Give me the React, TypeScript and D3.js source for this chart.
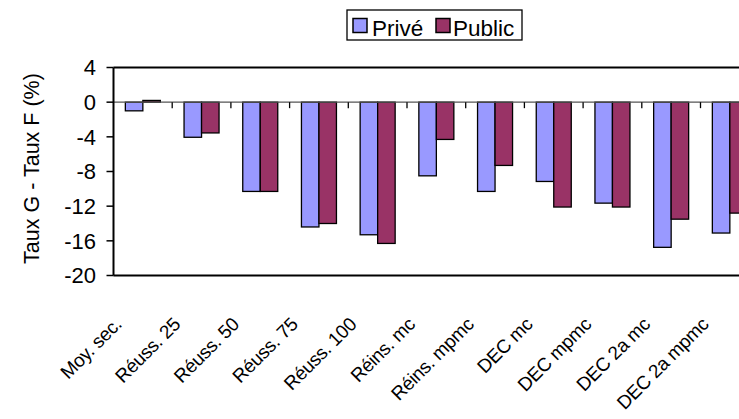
import React from "react";
import * as d3 from "d3";

const categories = ["Moy. sec.", "Réuss. 25", "Réuss. 50", "Réuss. 75", "Réuss. 100", "Réins. mc", "Réins. mpmc", "DEC mc", "DEC mpmc", "DEC 2a mc", "DEC 2a mpmc"];
const seriesNames = ["Privé", "Public"];
const prive = [-1.0, -4.05, -10.3, -14.4, -15.3, -8.5, -10.3, -9.15, -11.65, -16.75, -15.1];
const publicVals = [0.2, -3.55, -10.3, -14.0, -16.3, -4.3, -7.3, -12.1, -12.1, -13.5, -12.8];
const yTicks = [4, 0, -4, -8, -12, -16, -20];
const colors = ["#9999FF", "#993366"];

const W = 739, H = 419;
const left = 113.5, plotTop = 67.5, plotBottom = 275.5;
const bandW = 58.7;
const right = left + bandW * categories.length;
const FONT = "Liberation Sans, Arial, sans-serif";

export default function App() {
  const x = d3.scaleBand<string>().domain(categories).range([left, right]).padding(0);
  const y = d3.scaleLinear().domain([-20, 4]).range([plotBottom, plotTop]);
  const barW = 17.5;
  const xs = d3.scaleBand<string>().domain(seriesNames).range([-barW, barW]).padding(0);
  const series = [prive, publicVals];
  const y0 = y(0);

  return (
    <svg width={W} height={H} style={{ position: "absolute", left: 0, top: 0, background: "#fff" }} fontFamily={FONT}>
      <rect x={0} y={0} width={W} height={H} fill="#fff" />
      {categories.map((c, i) => {
        const cx = (x(c) as number) + x.bandwidth() / 2;
        return series.map((s, k) => {
          const v = s[i];
          const yy = Math.min(y(v), y0);
          const h = Math.abs(y(v) - y0);
          return (
            <rect key={c + k} x={cx + (xs(seriesNames[k]) as number)} y={yy} width={xs.bandwidth()} height={h}
              fill={colors[k]} stroke="#000" strokeWidth={1.3} />
          );
        });
      })}
      <line x1={left} x2={right} y1={y0} y2={y0} stroke="#555" strokeWidth={1.3} />
      {categories.map((c, i) => i > 0 ? (
        <line key={"xt" + i} x1={x(c)} x2={x(c)} y1={y0} y2={y0 + 6} stroke="#000" strokeWidth={1.3} />
      ) : null)}
      <line x1={left} x2={right} y1={plotTop} y2={plotTop} stroke="#000" strokeWidth={2} />
      <line x1={left} x2={right} y1={plotBottom} y2={plotBottom} stroke="#000" strokeWidth={2} />
      <line x1={left} x2={left} y1={plotTop} y2={plotBottom} stroke="#000" strokeWidth={2} />
      {yTicks.map((t) => (
        <g key={"yt" + t}>
          <line x1={left - 7} x2={left} y1={y(t)} y2={y(t)} stroke="#000" strokeWidth={1.5} />
          <text x={96} y={y(t)} dy="0.36em" textAnchor="end" fontSize={22}>{t}</text>
        </g>
      ))}
      <text transform={`translate(39,${(plotTop + plotBottom) / 2 - 3}) rotate(-90)`} textAnchor="middle" fontSize={21.5}>Taux G - Taux F (%)</text>
      {categories.map((c) => {
        const cx = (x(c) as number) + x.bandwidth() / 2;
        return (
          <text key={"xl" + c} transform={`translate(${cx - 20},${plotBottom + 50}) rotate(-45)`} textAnchor="end" fontSize={19} letterSpacing={-0.3}>{c}</text>
        );
      })}
      <rect x={347} y={10} width={175} height={30} fill="#fff" stroke="#000" strokeWidth={1.3} />
      <rect x={353} y={18.5} width={14} height={14} fill={colors[0]} stroke="#000" strokeWidth={1.5} />
      <text x={372} y={36} fontSize={22.5}>{seriesNames[0]}</text>
      <rect x={436} y={18.5} width={14} height={14} fill={colors[1]} stroke="#000" strokeWidth={1.5} />
      <text x={453} y={36} fontSize={22.5}>{seriesNames[1]}</text>
    </svg>
  );
}
